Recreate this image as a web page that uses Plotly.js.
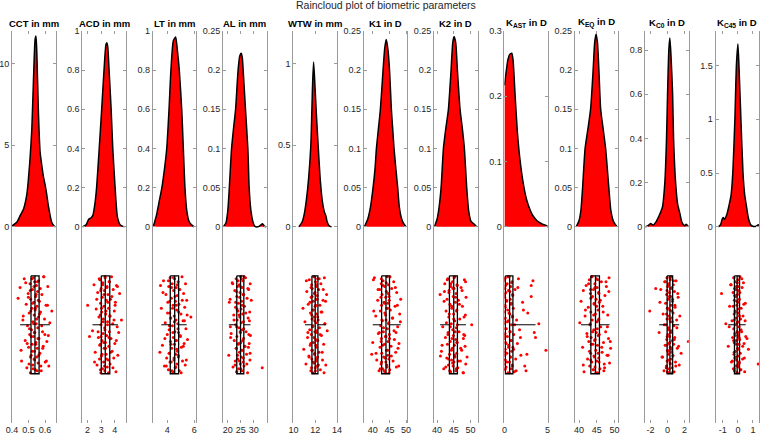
<!DOCTYPE html>
<html><head><meta charset="utf-8">
<script src="https://cdn.plot.ly/plotly-3.0.1.min.js"></script>
<style>html,body{margin:0;padding:0;background:#fff}#chart{width:760px;height:437px}</style>
</head><body><div id="chart"></div>
<script>
const chartTitle = 'Raincloud plot of biometric parameters';
const panelTitles = ['<b>CCT in mm</b>','<b>ACD in mm</b>','<b>LT in mm</b>','<b>AL in mm</b>','<b>WTW in mm</b>','<b>K1 in D</b>','<b>K2 in D</b>','<b>K<sub>AST</sub> in D</b>','<b>K<sub>EQ</sub> in D</b>','<b>K<sub>C0</sub> in D</b>','<b>K<sub>C45</sub> in D</b>'];

const xMin = [0.4,1.63,2.92,18.2,10,37.3,39.1,0,38.8,-2.64,-1.49];
const xMax = [0.664,4.81,6.15,34.9,14,50.4,52.2,5.05,51.1,2.5,1.41];
const yMax = [12,1,1,0.25,1.2,0.25,0.25,0.3,0.25,0.886,1.82];

const xTickVals = [[0.4,0.5,0.6],[2,3,4],[4,6],[20,25,30],[10,12,14],[40,45,50],[40,45,50],[0,5],[40,45,50],[-2,0,2],[-1,0,1]];
const xTickText = [['0.4','0.5','0.6'],['2','3','4'],['4','6'],['20','25','30'],['10','12','14'],['40','45','50'],['40','45','50'],['0','5'],['40','45','50'],['-2','0','2'],['-1','0','1']];
const yTickVals = [[0,5,10],[0,0.2,0.4,0.6,0.8,1],[0,0.2,0.4,0.6,0.8,1],[0,0.05,0.1,0.15,0.2,0.25],[0,0.5,1],[0,0.05,0.1,0.15,0.2,0.25],[0,0.05,0.1,0.15,0.2,0.25],[0,0.1,0.2,0.3],[0,0.05,0.1,0.15,0.2,0.25],[0,0.2,0.4,0.6,0.8],[0,0.5,1,1.5]];
const yTickText = [['0','5','10'],['0','0.2','0.4','0.6','0.8','1'],['0','0.2','0.4','0.6','0.8','1'],['0','0.05','0.1','0.15','0.2','0.25'],['0','0.5','1'],['0','0.05','0.1','0.15','0.2','0.25'],['0','0.05','0.1','0.15','0.2','0.25'],['0','0.1','0.2','0.3'],['0','0.05','0.1','0.15','0.2','0.25'],['0','0.2','0.4','0.6','0.8'],['0','0.5','1','1.5']];

// box statistics (Q1, median, Q3, 2nd and 98th percentile whiskers)
const q1  = [0.515,3.01,4.22,23.46,11.7,42.67,43.7,0.1,43.33,-0.05,-0.23];
const med = [0.539,3.30,4.55,24.9,12.0,43.98,45.0,0.6,44.64,0.28,-0.05];
const q3  = [0.564,3.63,4.84,26.15,12.25,45.04,46.1,0.98,45.75,0.6,0.11];
const wLo = [0.449,2.37,3.56,20.4,11.06,40.0,40.9,0.0,40.56,-0.99,-0.64];
const wHi = [0.629,4.22,5.44,28.7,12.97,48.4,48.7,3.6,48.6,1.38,0.52];

// density clouds
const kdeX_CCT = [0.40,0.43,0.45,0.47,0.49,0.50,0.51,0.52,0.53,0.54,0.545,0.55,0.56,0.57,0.58,0.59,0.60,0.61,0.62,0.64,0.655,0.664];
const kdeY_CCT = [0.05,0.3,0.7,1.1,2.0,3.0,4.3,6.0,9.0,11.5,11.7,10.8,7.0,4.6,3.8,3.1,2.6,2.0,1.3,0.3,0.05,0.0];
const kdeX_ACD = [1.63,1.9,2.1,2.25,2.4,2.55,2.67,2.86,3.04,3.21,3.35,3.41,3.48,3.58,3.73,3.85,4.02,4.19,4.4,4.7];
const kdeY_ACD = [0.0,0.01,0.04,0.045,0.06,0.12,0.2,0.4,0.6,0.8,0.93,0.94,0.92,0.8,0.6,0.4,0.2,0.05,0.01,0.0];
const kdeX_LT = [2.96,3.2,3.4,3.6,3.8,3.96,4.13,4.27,4.45,4.62,4.75,4.89,5.07,5.19,5.31,5.45,5.6,5.8,6.0];
const kdeY_LT = [0.0,0.06,0.13,0.2,0.3,0.4,0.6,0.8,0.95,0.97,0.9,0.8,0.6,0.4,0.2,0.08,0.03,0.01,0.0];
const kdeX_AL = [18.3,19.3,20.0,20.6,21.46,22.2,23.0,23.96,24.6,25.15,25.6,25.9,26.8,27.7,28.2,28.9,29.6,30.3,31.5,32.5,33.3,34.0,34.8];
const kdeY_AL = [0.0,0.005,0.02,0.05,0.1,0.125,0.15,0.2,0.218,0.222,0.215,0.2,0.15,0.1,0.05,0.02,0.007,0.001,0.0,0.002,0.004,0.001,0.0];
const kdeX_WTW = [10.5,10.8,11.0,11.2,11.4,11.6,11.75,11.85,11.95,12.1,12.27,12.45,12.65,12.85,12.97,13.1,13.3,13.5];
const kdeY_WTW = [0.0,0.03,0.08,0.17,0.3,0.5,0.85,1.01,0.9,0.7,0.5,0.3,0.16,0.09,0.07,0.03,0.005,0.0];
const kdeX_K1 = [37.5,38.5,39.3,40.1,40.7,41.1,41.7,42.3,43.1,43.6,44.07,44.6,45.05,45.6,46.0,46.4,47.0,47.5,48.0,48.7,49.3,50.0];
const kdeY_K1 = [0.0,0.01,0.025,0.05,0.075,0.1,0.125,0.15,0.2,0.228,0.239,0.225,0.2,0.15,0.125,0.1,0.072,0.05,0.025,0.01,0.004,0.0];
const kdeX_K2 = [39.2,40.0,40.6,41.2,41.9,42.6,43.4,44.2,44.7,45.1,45.6,46.1,46.9,47.6,48.2,48.9,49.5,50.2,51.0,51.9];
const kdeY_K2 = [0.0,0.01,0.025,0.05,0.1,0.125,0.15,0.2,0.235,0.243,0.235,0.2,0.15,0.125,0.1,0.05,0.02,0.007,0.004,0.0];
const kdeX_KAST = [0.0,0.2,0.4,0.6,0.85,1.0,1.24,1.5,1.8,2.2,2.56,3.0,3.3,3.8,4.3,4.8,5.05];
const kdeY_KAST = [0.217,0.238,0.256,0.264,0.266,0.255,0.2,0.145,0.103,0.065,0.042,0.025,0.017,0.009,0.005,0.002,0.0];
const kdeX_KEQ = [39.2,40.0,40.5,41.0,41.7,42.5,43.25,43.97,44.4,44.8,45.2,45.6,46.1,46.8,47.5,48.4,49.0,49.8,50.75];
const kdeY_KEQ = [0.0,0.008,0.02,0.05,0.1,0.125,0.15,0.2,0.235,0.246,0.235,0.2,0.15,0.125,0.1,0.05,0.02,0.006,0.0];
const kdeX_KC0 = [-2.64,-2.3,-2.0,-1.7,-1.4,-1.0,-0.6,-0.32,-0.12,0.0,0.15,0.27,0.4,0.6,0.71,0.95,1.2,1.46,1.7,2.0,2.2,2.5];
const kdeY_KC0 = [0.0,0.005,0.015,0.008,0.02,0.05,0.09,0.2,0.4,0.6,0.8,0.854,0.78,0.6,0.4,0.2,0.1,0.06,0.02,0.005,0.012,0.0];
const kdeX_KC45 = [-1.3,-1.15,-1.05,-0.98,-0.9,-0.75,-0.59,-0.45,-0.34,-0.2,-0.1,0.0,0.07,0.2,0.34,0.45,0.56,0.7,0.85,1.0,1.2,1.35,1.41];
const kdeY_KC45 = [0.0,0.02,0.07,0.087,0.07,0.11,0.2,0.3,0.5,1.0,1.5,1.70,1.5,1.0,0.5,0.3,0.2,0.08,0.02,0.005,0.005,0.02,0.015];

// rain: measured values and their vertical jitter (percent of the rain band)
const rainX_CCT = [0.449,0.458,0.466,0.474,0.480,0.486,0.490,0.494,0.498,0.501,0.504,0.507,0.509,0.511,0.513,0.516,0.518,0.520,0.522,0.524,0.526,0.527,0.529,0.530,0.532,0.533,0.534,0.536,0.537,0.538,0.540,0.542,0.543,0.545,0.547,0.548,0.550,0.551,0.553,0.555,0.556,0.558,0.560,0.561,0.563,0.566,0.569,0.573,0.577,0.581,0.585,0.589,0.593,0.597,0.601,0.606,0.611,0.617,0.623,0.629,0.437,0.455,0.620,0.641,
  0.468,0.483,0.492,0.499,0.503,0.506,0.510,0.512,0.514,0.517,0.521,0.523,0.525,0.528,0.531,0.533,0.535,0.537,0.541,0.544,0.546,0.549,0.552,0.554,0.557,0.559,0.562,0.567,0.571,0.575,0.580,0.586,0.592,0.599,0.608,0.615];
const rainJ_CCT = [12,87,45,3,66,29,94,51,18,73,38,60,8,99,24,81,55,33,70,14,91,47,2,62,27,85,40,77,6,58,35,96,21,68,49,10,83,31,74,16,53,89,42,5,64,26,79,37,97,19,57,72,1,44,88,30,67,11,92,48,23,76,61,36,
  41,7,69,22,90,54,15,83,36,62,3,77,28,95,49,11,58,86,33,70,19,44,97,6,64,25,81,39,13,92,51,74,1,60,87,30];
const rainX_ACD = [2.37,2.48,2.57,2.64,2.70,2.75,2.80,2.84,2.88,2.91,2.94,2.96,2.98,2.99,3.00,3.02,3.04,3.06,3.08,3.10,3.12,3.14,3.16,3.18,3.20,3.22,3.24,3.26,3.27,3.29,3.31,3.33,3.36,3.38,3.40,3.43,3.45,3.47,3.50,3.52,3.54,3.56,3.58,3.60,3.62,3.65,3.68,3.72,3.76,3.80,3.84,3.88,3.92,3.96,4.00,4.04,4.08,4.12,4.17,4.22,2.02,2.15,4.35,4.48,
  2.52,2.68,2.78,2.86,2.90,2.93,2.95,2.97,3.00,3.03,3.07,3.11,3.15,3.19,3.21,3.25,3.28,3.29,3.32,3.35,3.39,3.42,3.46,3.49,3.53,3.57,3.61,3.66,3.70,3.78,3.86,3.94,4.02,4.10,4.19,4.28];
const rainJ_ACD = [56,9,78,34,91,17,63,42,85,4,70,28,99,50,13,82,37,66,22,95,7,59,44,88,31,74,15,53,97,2,68,39,80,25,61,11,93,47,19,86,33,72,6,57,41,90,24,64,1,77,49,14,84,36,69,27,98,10,52,81,30,62,18,45,
  88,24,57,3,71,40,96,15,62,33,80,9,47,68,19,92,55,1,74,36,85,12,50,27,99,63,6,41,78,21,94,45,30,66,11,58];
const rainX_LT = [3.56,3.64,3.72,3.79,3.85,3.90,3.95,4.00,4.04,4.08,4.11,4.14,4.17,4.19,4.21,4.24,4.26,4.29,4.31,4.33,4.36,4.38,4.40,4.43,4.45,4.47,4.49,4.51,4.53,4.54,4.56,4.58,4.60,4.62,4.64,4.66,4.68,4.70,4.72,4.74,4.76,4.78,4.80,4.82,4.83,4.86,4.89,4.93,4.97,5.01,5.05,5.09,5.13,5.17,5.21,5.25,5.29,5.33,5.38,5.44,3.45,3.50,5.50,5.75,
  3.68,3.82,3.93,4.02,4.09,4.13,4.16,4.18,4.20,4.25,4.28,4.32,4.35,4.39,4.42,4.46,4.50,4.52,4.57,4.61,4.63,4.67,4.71,4.75,4.79,4.81,4.84,4.88,4.95,5.03,5.11,5.19,5.27,5.35,5.41,5.47];
const rainJ_LT = [33,71,5,92,48,19,84,60,27,96,11,55,79,38,2,67,43,88,23,74,8,51,98,30,63,15,86,41,70,3,57,94,26,80,45,12,66,35,90,20,77,49,6,83,58,29,97,14,62,39,73,1,87,46,18,69,32,91,54,25,78,10,65,42,
  17,64,92,38,5,79,51,26,88,43,70,12,97,33,58,2,84,47,21,66,93,30,75,9,54,81,37,14,61,99,25,72,46,8,86,40];
const rainX_AL = [20.4,20.9,21.3,21.7,22.0,22.3,22.5,22.7,22.9,23.0,23.1,23.2,23.3,23.4,23.45,23.5,23.6,23.7,23.8,23.9,24.0,24.1,24.2,24.3,24.4,24.5,24.6,24.7,24.8,24.85,24.95,25.0,25.1,25.2,25.3,25.4,25.5,25.6,25.65,25.7,25.8,25.9,26.0,26.05,26.1,26.2,26.4,26.6,26.8,27.0,27.2,27.4,27.6,27.8,28.0,28.2,28.4,28.5,28.6,28.7,33.2,20.6,21.0,27.9,
  21.1,21.9,22.4,22.8,23.05,23.25,23.35,23.42,23.44,23.55,23.75,23.95,24.15,24.35,24.45,24.55,24.75,24.88,24.98,25.15,25.25,25.45,25.55,25.75,25.85,25.95,26.12,26.3,26.5,26.9,27.3,27.7,28.1,28.3,28.55,29.0];
const rainJ_AL = [81,24,59,7,93,40,66,15,87,32,50,3,74,98,21,62,45,11,85,36,70,28,95,53,9,78,42,17,90,58,1,68,34,83,26,97,12,55,76,39,5,88,47,64,19,92,31,72,2,57,80,23,99,43,14,69,37,86,8,61,94,27,52,73,
  63,8,45,91,27,74,16,52,98,34,81,5,69,40,87,22,57,11,95,48,3,76,30,66,19,84,54,1,72,38,90,13,60,46,79,25];
const rainX_WTW = [11.06,11.15,11.23,11.30,11.36,11.42,11.46,11.50,11.54,11.57,11.60,11.63,11.65,11.67,11.69,11.71,11.73,11.75,11.77,11.79,11.81,11.83,11.85,11.87,11.89,11.91,11.93,11.95,11.97,11.99,12.01,12.03,12.04,12.06,12.08,12.09,12.11,12.13,12.14,12.16,12.18,12.19,12.21,12.22,12.24,12.27,12.31,12.35,12.39,12.43,12.47,12.52,12.57,12.62,12.67,12.72,12.78,12.84,12.90,12.97,10.88,10.95,13.05,13.10,
  11.19,11.33,11.44,11.52,11.59,11.62,11.66,11.68,11.70,11.72,11.76,11.80,11.84,11.88,11.92,11.94,11.96,11.98,12.02,12.05,12.07,12.10,12.12,12.15,12.17,12.20,12.23,12.29,12.37,12.45,12.54,12.64,12.74,12.81,12.88,12.95];
const rainJ_WTW = [47,90,16,63,29,82,4,55,71,38,97,22,60,9,85,44,13,76,35,99,51,26,68,1,89,42,18,79,57,31,94,6,65,48,24,87,11,73,39,58,92,20,83,3,66,45,14,78,53,30,96,8,61,37,86,25,70,2,49,91,33,75,19,56,
  5,58,83,27,69,12,94,40,76,21,52,88,35,63,1,80,46,17,97,30,71,9,56,85,24,66,42,91,3,60,37,78,14,99,49,26];
const rainX_K1 = [40.0,40.5,40.9,41.2,41.5,41.7,41.9,42.1,42.2,42.3,42.4,42.5,42.55,42.6,42.65,42.7,42.8,42.9,43.0,43.1,43.2,43.3,43.4,43.5,43.6,43.65,43.7,43.8,43.9,43.95,44.0,44.1,44.15,44.2,44.3,44.35,44.4,44.5,44.55,44.6,44.7,44.8,44.85,44.9,45.0,45.1,45.3,45.5,45.7,45.9,46.1,46.3,46.5,46.7,46.9,47.2,47.5,47.8,48.1,48.4,39.7,40.2,47.0,47.6,
  40.3,41.0,41.6,42.0,42.25,42.45,42.52,42.58,42.66,42.75,42.95,43.15,43.25,43.45,43.55,43.75,43.85,43.97,44.05,44.25,44.45,44.5,44.65,44.75,44.9,44.95,45.02,45.2,45.6,46.0,46.4,46.8,47.1,47.4,47.9,48.3];
const rainJ_K1 = [68,2,41,86,25,59,97,14,73,36,51,90,8,64,30,79,19,46,95,5,57,83,27,70,11,38,99,62,22,88,45,16,76,33,93,1,54,81,28,67,9,48,85,21,60,96,35,72,13,43,87,6,65,31,78,17,52,92,39,24,80,4,58,74,
  36,79,14,58,95,22,67,3,88,45,71,10,53,97,28,84,40,62,7,91,33,76,18,49,99,25,64,1,82,43,56,12,93,30,69,47];
const rainX_K2 = [40.9,41.3,41.7,42.0,42.3,42.5,42.7,42.9,43.0,43.1,43.2,43.3,43.4,43.5,43.6,43.75,43.85,43.95,44.05,44.15,44.25,44.35,44.45,44.55,44.6,44.7,44.8,44.85,44.9,44.95,45.05,45.1,45.2,45.3,45.35,45.4,45.5,45.6,45.65,45.7,45.8,45.9,45.95,46.0,46.05,46.2,46.4,46.6,46.8,47.0,47.2,47.4,47.6,47.8,48.0,48.2,48.4,48.5,48.6,48.7,50.4,41.0,42.2,47.9,
  41.5,42.1,42.6,42.8,43.05,43.25,43.45,43.55,43.65,43.8,44.0,44.1,44.3,44.4,44.5,44.65,44.75,44.98,45.08,45.25,45.45,45.55,45.75,45.85,45.9,46.02,46.08,46.3,46.7,47.1,47.5,47.9,48.1,48.3,48.55,49.0];
const rainJ_K2 = [19,77,52,95,8,63,36,84,24,70,3,58,91,42,15,80,29,67,98,11,49,86,33,74,6,55,92,21,61,39,88,13,71,46,1,83,27,65,97,18,53,79,35,9,68,94,25,57,44,87,12,76,31,99,60,4,72,40,90,22,50,82,16,64,
  71,26,93,48,4,60,85,17,39,97,52,8,76,31,64,89,13,44,2,81,57,22,95,36,68,10,50,87,29,74,15,99,42,61,6,83];
const rainX_KAST = [0.00,0.01,0.02,0.02,0.03,0.04,0.05,0.05,0.06,0.07,0.07,0.08,0.09,0.09,0.10,0.13,0.16,0.19,0.22,0.25,0.28,0.31,0.34,0.37,0.40,0.43,0.46,0.50,0.54,0.58,0.62,0.64,0.67,0.69,0.72,0.74,0.77,0.79,0.82,0.84,0.87,0.89,0.92,0.94,0.97,1.02,1.08,1.15,1.22,1.30,1.40,1.50,1.62,1.75,1.90,2.10,2.35,2.70,3.10,3.60,3.98,4.8,3.1,2.5,
  0.00,0.01,0.03,0.04,0.06,0.08,0.09,0.10,0.10,0.14,0.20,0.24,0.29,0.35,0.41,0.47,0.52,0.57,0.63,0.66,0.70,0.75,0.80,0.85,0.90,0.93,0.96,1.05,1.18,1.35,1.55,1.85,2.20,2.60,3.30,3.45];
const rainJ_KAST = [90,37,5,64,22,81,48,13,96,59,30,75,2,86,43,68,17,93,54,26,79,8,62,35,99,46,15,71,1,88,39,57,24,83,11,66,95,28,50,77,6,91,42,19,73,33,60,98,14,85,45,69,3,55,81,27,92,38,10,63,49,76,21,97,
  44,86,19,61,3,78,32,95,54,10,69,25,88,47,1,73,38,99,16,57,83,29,66,7,92,41,20,75,50,97,12,63,35,80,5,58];
const rainX_KEQ = [40.56,41.0,41.4,41.7,42.0,42.2,42.4,42.6,42.75,42.9,43.0,43.1,43.2,43.25,43.3,43.4,43.5,43.6,43.7,43.8,43.9,44.0,44.1,44.15,44.2,44.3,44.4,44.45,44.5,44.6,44.7,44.8,44.85,44.9,45.0,45.05,45.1,45.2,45.3,45.35,45.4,45.5,45.55,45.6,45.7,45.9,46.1,46.3,46.5,46.7,46.9,47.1,47.3,47.5,47.7,47.9,48.1,48.3,48.45,48.6,40.2,48.9,41.2,47.0,
  41.2,41.8,42.3,42.7,42.95,43.15,43.22,43.28,43.32,43.45,43.65,43.85,44.05,44.12,44.25,44.35,44.48,44.55,44.75,44.95,45.15,45.25,45.38,45.45,45.6,45.65,45.72,46.0,46.4,46.8,47.2,47.6,48.0,48.2,48.4,48.8];
const rainJ_KEQ = [26,73,98,41,10,59,85,32,67,4,92,50,18,79,37,63,1,88,45,21,70,96,14,55,82,29,66,8,93,39,76,24,58,3,87,47,12,71,99,35,61,17,84,44,27,95,52,6,78,31,68,90,20,57,11,81,40,64,2,89,48,74,15,97,
  91,35,62,8,77,49,14,86,23,70,1,57,96,40,28,83,12,65,99,31,54,4,79,45,18,88,60,25,73,37,94,6,52,81,16,67];
const rainX_KC0 = [-0.99,-0.80,-0.65,-0.52,-0.42,-0.34,-0.28,-0.22,-0.18,-0.14,-0.11,-0.09,-0.07,-0.06,-0.05,-0.03,0.0,0.02,0.04,0.06,0.08,0.10,0.12,0.14,0.16,0.18,0.20,0.22,0.24,0.26,0.30,0.32,0.34,0.36,0.38,0.40,0.42,0.44,0.46,0.48,0.50,0.52,0.54,0.56,0.58,0.62,0.65,0.68,0.71,0.74,0.77,0.81,0.85,0.89,0.94,1.00,1.07,1.15,1.25,1.38,-2.1,2.45,-1.39,1.6,
  -0.90,-0.58,-0.38,-0.25,-0.16,-0.12,-0.08,-0.06,-0.05,-0.02,0.01,0.05,0.09,0.13,0.17,0.21,0.25,0.27,0.29,0.33,0.37,0.41,0.45,0.49,0.53,0.57,0.59,0.63,0.70,0.79,0.87,0.97,1.10,1.20,1.30,1.45];
const rainJ_KC0 = [58,14,83,39,97,6,71,28,50,92,19,65,2,44,87,33,76,11,60,99,24,53,80,8,69,41,95,17,62,35,89,4,73,47,21,85,30,56,1,78,43,12,94,66,26,82,38,9,70,51,98,16,63,32,88,5,45,74,22,91,36,67,13,79,
  27,83,50,6,94,39,71,15,62,98,33,77,9,55,86,21,44,68,2,90,58,13,75,36,99,47,24,81,5,65,30,92,53,18,72,41];
const rainX_KC45 = [-0.64,-0.55,-0.48,-0.43,-0.39,-0.35,-0.32,-0.30,-0.28,-0.27,-0.26,-0.25,-0.24,-0.235,-0.23,-0.22,-0.21,-0.20,-0.19,-0.18,-0.17,-0.16,-0.15,-0.14,-0.13,-0.12,-0.10,-0.09,-0.07,-0.06,-0.04,-0.03,-0.02,-0.01,0.0,0.01,0.02,0.03,0.04,0.05,0.06,0.07,0.08,0.09,0.10,0.12,0.14,0.16,0.18,0.20,0.22,0.25,0.28,0.31,0.34,0.37,0.41,0.45,0.49,0.52,-1.09,1.35,-0.80,0.70,
  -0.58,-0.45,-0.37,-0.31,-0.285,-0.265,-0.245,-0.24,-0.232,-0.215,-0.195,-0.175,-0.155,-0.135,-0.11,-0.08,-0.065,-0.055,-0.035,-0.015,0.005,0.015,0.035,0.055,0.075,0.085,0.105,0.13,0.17,0.21,0.26,0.32,0.39,0.43,0.48,0.60];
const rainJ_KC45 = [72,31,9,88,46,63,17,95,54,2,80,39,68,25,97,13,59,84,36,6,77,50,21,92,43,66,11,86,30,57,99,19,74,47,4,82,61,27,93,38,15,70,52,89,24,65,1,79,44,96,33,57,12,85,41,7,69,98,28,62,18,90,49,75,
  52,9,87,31,66,2,78,45,95,20,61,37,83,14,70,99,26,48,7,91,58,34,75,11,63,88,41,17,96,55,3,72,29,84,46,64];

const kdeX = [kdeX_CCT,kdeX_ACD,kdeX_LT,kdeX_AL,kdeX_WTW,kdeX_K1,kdeX_K2,kdeX_KAST,kdeX_KEQ,kdeX_KC0,kdeX_KC45];
const kdeY = [kdeY_CCT,kdeY_ACD,kdeY_LT,kdeY_AL,kdeY_WTW,kdeY_K1,kdeY_K2,kdeY_KAST,kdeY_KEQ,kdeY_KC0,kdeY_KC45];
const rainX = [rainX_CCT,rainX_ACD,rainX_LT,rainX_AL,rainX_WTW,rainX_K1,rainX_K2,rainX_KAST,rainX_KEQ,rainX_KC0,rainX_KC45];
const rainJ = [rainJ_CCT,rainJ_ACD,rainJ_LT,rainJ_AL,rainJ_WTW,rainJ_K1,rainJ_K2,rainJ_KAST,rainJ_KEQ,rainJ_KC0,rainJ_KC45];

const W = 760, H = 437;
const left0 = 12, step = 70.35, pw = 43.6;
const yDom = [(H-422.7)/H, (H-31)/H];
const axCol = '#9a9a9a', txtCol = '#262626';
const FONT = 'Liberation Sans, Arial, Helvetica, sans-serif';

const traces = [];
const layout = {
  width: W, height: H, margin: {l:0,r:0,t:0,b:0}, showlegend: false,
  paper_bgcolor: '#fff', plot_bgcolor: '#fff', hovermode: false,
  font: {family: FONT, color: txtCol, size: 9},
  annotations: [{text: chartTitle, xref:'paper', yref:'paper', x: 385.5/W, y: 1, xanchor:'center', yanchor:'top', yshift: 3, showarrow:false, font:{size:10.5, color: txtCol, family: FONT}}]
};

for (let i = 0; i < panelTitles.length; i++) {
  const s = i === 0 ? '' : String(i+1);
  const xa = 'x'+s, ya = 'y'+s;
  const m = yMax[i];
  const top = -0.25*m, bot = -0.75*m, mid = -0.5*m;
  const n = Math.min(rainX[i].length, rainJ[i].length);
  traces.push({type:'scatter', mode:'lines', x:kdeX[i], y:kdeY[i], xaxis:xa, yaxis:ya, fill:'tozeroy', fillcolor:'#ff0000', line:{color:'#000', width:1.5, shape:'spline', smoothing:0.6}});
  traces.push({type:'scatter', mode:'markers', x:rainX[i].slice(0,n), y:rainJ[i].slice(0,n).map(j => -(0.25 + 0.5*j/100)*m), xaxis:xa, yaxis:ya, marker:{color:'#ff0000', size:3, line:{width:0}}});
  traces.push({type:'scatter', mode:'lines', x:[q1[i],q3[i],q3[i],q1[i],q1[i]], y:[top,top,bot,bot,top], xaxis:xa, yaxis:ya, line:{color:'#000', width:1.3}});
  traces.push({type:'scatter', mode:'lines', x:[med[i],med[i]], y:[top,bot], xaxis:xa, yaxis:ya, line:{color:'#000', width:1.3}});
  traces.push({type:'scatter', mode:'lines', x:[wLo[i],q1[i],null,q3[i],wHi[i]], y:[mid,mid,null,mid,mid], xaxis:xa, yaxis:ya, line:{color:'#000', width:1}});

  const x0 = (left0 + step*i)/W, x1 = (left0 + step*i + pw)/W;
  layout['xaxis'+s] = {domain:[x0,x1], range:[xMin[i], xMax[i]], anchor: ya, tickmode:'array', tickvals:xTickVals[i], ticktext:xTickText[i], ticks:'inside', ticklen:3, tickcolor:axCol, showline:false, mirror:'ticks', showgrid:false, zeroline:false, automargin:false, fixedrange:true, tickfont:{size:9, color:txtCol}};
  layout['yaxis'+s] = {domain:yDom, range:[-m, m], anchor: xa, tickmode:'array', tickvals:yTickVals[i], ticktext:yTickText[i], ticks:'inside', ticklen:3, tickcolor:axCol, showline:true, linecolor:axCol, linewidth:1, mirror:'ticks', showgrid:false, zeroline:false, automargin:false, fixedrange:true, tickfont:{size:9, color:txtCol}};
  layout.annotations.push({text: panelTitles[i], xref:'paper', yref:'paper', x:(x0+x1)/2, y:yDom[1], xanchor:'center', yanchor:'bottom', yshift:0, showarrow:false, font:{size:9.5, color:'#000', family: FONT}});
}

Plotly.newPlot('chart', traces, layout, {staticPlot:true, displayModeBar:false});
</script></body></html>
